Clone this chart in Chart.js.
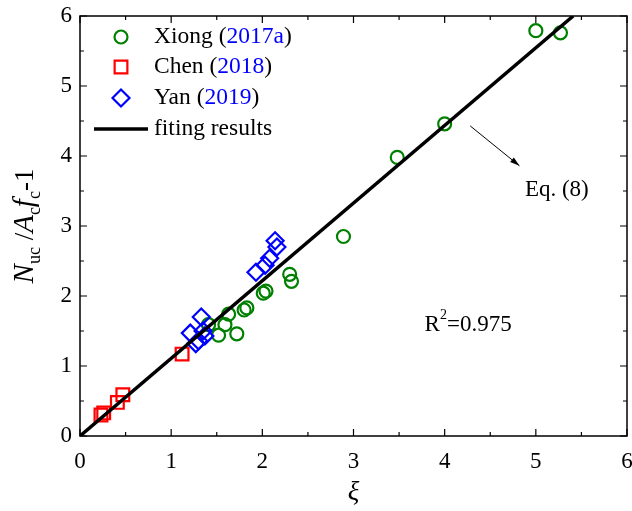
<!DOCTYPE html>
<html>
<head>
<meta charset="utf-8">
<script src="https://cdn.jsdelivr.net/npm/chart.js@4.4.0/dist/chart.umd.min.js"></script>
<style>
  html, body { margin: 0; padding: 0; background: #fff; }
  #wrap { width: 632px; height: 511px; }
</style>
</head>
<body>
<div id="wrap"><canvas id="myChart" width="632" height="511"></canvas></div>
<script>
// data
const xiongX = [1.52, 1.72, 1.59, 1.41, 1.63, 1.80, 1.83, 2.01, 2.04, 2.30, 2.32, 2.89, 3.48, 4.00, 5.00, 5.27];
const xiongY = [1.44, 1.46, 1.59, 1.59, 1.74, 1.80, 1.83, 2.04, 2.07, 2.31, 2.21, 2.85, 3.98, 4.46, 5.79, 5.76];
const chenX = [0.23, 0.26, 0.41, 0.47, 1.12];
const chenY = [0.30, 0.33, 0.48, 0.59, 1.17];
const yanX = [1.21, 1.27, 1.30, 1.33, 1.35, 1.37, 1.93, 2.03, 2.08, 2.14, 2.16];
const yanY = [1.47, 1.32, 1.36, 1.70, 1.50, 1.43, 2.34, 2.44, 2.54, 2.79, 2.70];
const fitX = [0, 5.41];
const fitY = [0, 6];
const xTicks = [0, 1, 2, 3, 4, 5, 6];
const yTicks = [0, 1, 2, 3, 4, 5, 6];

const FONT = "'Liberation Serif', 'DejaVu Serif', serif";
const GREEN = '#008000', RED = '#ff0000', BLUE = '#0000ff';

const toPts = (xs, ys) => xs.map((x, i) => ({ x: x, y: ys[i] }));

// frame, inward ticks, legend, annotations, y title
const decorPlugin = {
    id: 'decor',
    afterDraw(chart) {
        const ctx = chart.ctx;
        const a = chart.chartArea;
        const xs = chart.scales.x, ys = chart.scales.y;
        ctx.save();
        ctx.strokeStyle = '#000';
        ctx.lineWidth = 1.5;
        ctx.strokeRect(a.left, a.top, a.right - a.left, a.bottom - a.top);

        // ticks on all four sides, pointing in
        ctx.lineWidth = 1.2;
        ctx.beginPath();
        for (let v = 0; v <= 6.001; v += 0.5) {
            const major = Math.abs(v - Math.round(v)) < 1e-6;
            const len = major ? 7 : 4;
            const px = xs.getPixelForValue(v);
            ctx.moveTo(px, a.bottom); ctx.lineTo(px, a.bottom - len);
            ctx.moveTo(px, a.top); ctx.lineTo(px, a.top + len);
            const py = ys.getPixelForValue(v);
            ctx.moveTo(a.left, py); ctx.lineTo(a.left + len, py);
            ctx.moveTo(a.right, py); ctx.lineTo(a.right - len, py);
        }
        ctx.stroke();

        // legend
        const lx = a.left + 41;
        const tx = a.left + 74;
        const rows = [a.top + 21, a.top + 51, a.top + 82, a.top + 113];
        const marks = [
            { style: 'circle', r: 6.5, c: GREEN, name: 'Xiong (', year: '2017a' },
            { style: 'rect', r: 9, c: RED, name: 'Chen (', year: '2018' },
            { style: 'rectRot', r: 8.5, c: BLUE, name: 'Yan (', year: '2019' }
        ];
        ctx.font = '23.5px ' + FONT;
        ctx.textBaseline = 'middle';
        ctx.textAlign = 'left';
        marks.forEach((m, i) => {
            ctx.strokeStyle = m.c;
            ctx.fillStyle = 'rgba(0,0,0,0)';
            ctx.lineWidth = 2.2;
            Chart.helpers.drawPoint(ctx, { pointStyle: m.style, radius: m.r, borderWidth: 2.2 }, lx, rows[i]);
            let x = tx;
            ctx.fillStyle = '#000';
            ctx.fillText(m.name, x, rows[i]);
            x += ctx.measureText(m.name).width;
            ctx.fillStyle = BLUE;
            ctx.fillText(m.year, x, rows[i]);
            x += ctx.measureText(m.year).width;
            ctx.fillStyle = '#000';
            ctx.fillText(')', x, rows[i]);
        });
        ctx.strokeStyle = '#000';
        ctx.lineWidth = 3.5;
        ctx.beginPath();
        ctx.moveTo(a.left + 14, rows[3]);
        ctx.lineTo(a.left + 68, rows[3]);
        ctx.stroke();
        ctx.fillStyle = '#000';
        ctx.fillText('fiting results', tx, rows[3]);

        // arrow pointing to the fitted line label
        const x1 = xs.getPixelForValue(4.28), y1 = ys.getPixelForValue(4.43);
        const x2 = xs.getPixelForValue(4.82), y2 = ys.getPixelForValue(3.86);
        ctx.lineWidth = 1;
        ctx.beginPath();
        ctx.moveTo(x1, y1); ctx.lineTo(x2, y2);
        ctx.stroke();
        const ang = Math.atan2(y2 - y1, x2 - x1);
        ctx.beginPath();
        ctx.moveTo(x2, y2);
        ctx.lineTo(x2 - 10 * Math.cos(ang - 0.3), y2 - 10 * Math.sin(ang - 0.3));
        ctx.lineTo(x2 - 10 * Math.cos(ang + 0.3), y2 - 10 * Math.sin(ang + 0.3));
        ctx.closePath();
        ctx.fill();

        ctx.font = '23px ' + FONT;
        ctx.fillText('Eq. (8)', xs.getPixelForValue(4.88), ys.getPixelForValue(3.51));

        // R^2 annotation
        let rx = xs.getPixelForValue(3.78);
        const ry = ys.getPixelForValue(1.59);
        ctx.fillText('R', rx, ry);
        rx += ctx.measureText('R').width;
        ctx.font = '14px ' + FONT;
        ctx.fillText('2', rx, ry - 9);
        rx += ctx.measureText('2').width;
        ctx.font = '23px ' + FONT;
        ctx.fillText('=0.975', rx, ry);

        // y axis title with sub scripts
        const parts = [
            { t: 'N', f: 'italic 29px ' + FONT, dy: 0 },
            { t: 'uc', f: '18px ' + FONT, dy: 7 },
            { t: ' /', f: '27px ' + FONT, dy: 0 },
            { t: 'A', f: 'italic 29px ' + FONT, dy: 0 },
            { t: 'c', f: '18px ' + FONT, dy: 7 },
            { t: 'f', f: 'italic 29px ' + FONT, dy: 0 },
            { t: 'c', f: '18px ' + FONT, dy: 7 },
            { t: '-1', f: '27px ' + FONT, dy: 0 }
        ];
        let total = 0;
        parts.forEach(p => { ctx.font = p.f; p.w = ctx.measureText(p.t).width; total += p.w; });
        ctx.translate(33, (a.top + a.bottom) / 2);
        ctx.rotate(-Math.PI / 2);
        ctx.textBaseline = 'alphabetic';
        let cx = -total / 2;
        parts.forEach(p => {
            ctx.font = p.f;
            ctx.fillText(p.t, cx, p.dy);
            cx += p.w;
        });
        ctx.restore();
    }
};

const chartCtx = document.getElementById('myChart').getContext('2d');
new Chart(chartCtx, {
    type: 'scatter',
    data: {
        datasets: [
            {
                type: 'line',
                label: 'fiting results',
                data: toPts(fitX, fitY),
                borderColor: '#000',
                borderWidth: 3.5,
                pointRadius: 0,
                fill: false,
                order: 0
            },
            {
                label: 'Xiong (2017a)',
                data: toPts(xiongX, xiongY),
                pointStyle: 'circle',
                pointRadius: 6.5,
                pointBorderWidth: 2.2,
                borderColor: GREEN,
                backgroundColor: 'rgba(0,0,0,0)',
                order: 3
            },
            {
                label: 'Chen (2018)',
                data: toPts(chenX, chenY),
                pointStyle: 'rect',
                pointRadius: 9,
                pointBorderWidth: 2.2,
                borderColor: RED,
                backgroundColor: 'rgba(0,0,0,0)',
                order: 2
            },
            {
                label: 'Yan (2019)',
                data: toPts(yanX, yanY),
                pointStyle: 'rectRot',
                pointRadius: 8.5,
                pointBorderWidth: 2.2,
                borderColor: BLUE,
                backgroundColor: 'rgba(0,0,0,0)',
                order: 1
            }
        ]
    },
    options: {
        responsive: false,
        animation: false,
        layout: { autoPadding: false, padding: { top: 16, right: 5, left: 0, bottom: 0 } },
        plugins: {
            legend: { display: false },
            tooltip: { enabled: false }
        },
        scales: {
            x: {
                type: 'linear',
                min: 0, max: 6,
                afterFit(s) { s.height = 75; },
                afterUpdate(s) { s.paddingLeft = 0; s.paddingRight = 0; },
                afterBuildTicks(s) { s.ticks = xTicks.map(v => ({ value: v })); },
                grid: { display: false, drawTicks: false },
                border: { display: false },
                ticks: { color: '#000', font: { family: FONT, size: 23 }, padding: 12, maxRotation: 0 },
                title: { display: true, text: 'ξ', color: '#000', font: { family: FONT, size: 27, style: 'italic' }, padding: { top: 0, bottom: 2 } }
            },
            y: {
                type: 'linear',
                min: 0, max: 6,
                afterFit(s) { s.width = 80; },
                afterUpdate(s) { s.paddingTop = 0; s.paddingBottom = 0; },
                afterBuildTicks(s) { s.ticks = yTicks.map(v => ({ value: v })); },
                grid: { display: false, drawTicks: false },
                border: { display: false },
                ticks: { color: '#000', font: { family: FONT, size: 23 }, padding: 8 }
            }
        }
    },
    plugins: [decorPlugin]
});
</script>
</body>
</html>
